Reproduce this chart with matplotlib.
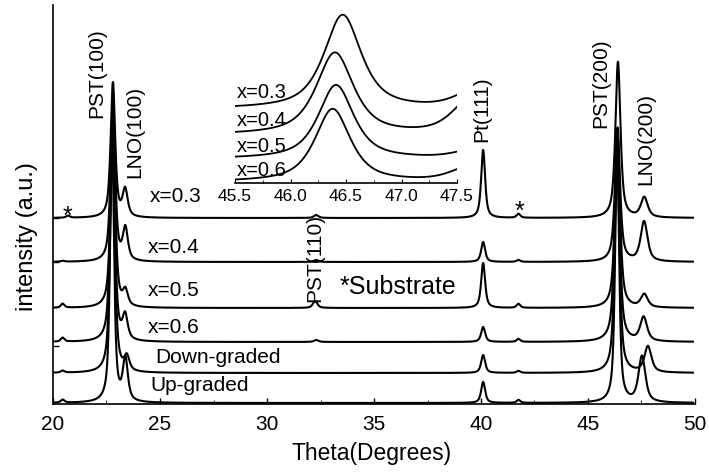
import numpy as np
import matplotlib
matplotlib.use('Agg')
from matplotlib import pyplot as plt
from matplotlib.ticker import MultipleLocator

plt.rcParams['font.family'] = ['Liberation Sans', 'DejaVu Sans']

########################################################################################################################
# Data, heights in arbitrary units above each baseline
samples = ['x=0.3', 'x=0.4', 'x=0.5', 'x=0.6', 'Down-graded', 'Up-graded']
offsets = [186, 142, 96, 62, 31, 1]

sub1_pos = [20.7, 20.45, 20.45, 20.45, 20.45, 20.45]
sub1_h = [2, 1, 4, 4, 2, 3]
pst100_pos = [22.80, 22.80, 22.80, 22.78, 22.78, 22.76]
pst100_h = [135, 162, 198, 222, 243, 263]
pst100_w = [0.25, 0.25, 0.25, 0.25, 0.25, 0.22]
lno100_pos = [23.37, 23.38, 23.38, 23.37, 23.45, 23.38]
lno100_h = [27, 32, 15, 24, 14, 42]
pst110_pos = [32.3, 32.3, 32.25, 32.3, 32.3, 32.3]
pst110_h = [3, 2, 7, 2, 0, 0]
pt111_pos = [40.1, 40.1, 40.1, 40.1, 40.1, 40.1]
pt111_h = [68, 20, 45, 15, 18, 21]
sub2_pos = [41.75, 41.75, 41.75, 41.75, 41.75, 41.75]
sub2_h = [4, 2, 4, 3, 2, 3]
pst200_pos = [46.40, 46.38, 46.38, 46.36, 46.36, 46.36]
pst200_h = [156, 134, 173, 202, 228, 253]
pst200_w = [0.28, 0.28, 0.28, 0.28, 0.26, 0.22]
lno200_pos = [47.63, 47.62, 47.63, 47.60, 47.80, 47.52]
lno200_h = [20, 40, 13, 24, 26, 46]

# inset: PST(200) region, x=0.3 ... x=0.6
inset_samples = ['x=0.3', 'x=0.4', 'x=0.5', 'x=0.6']
inset_offsets = [74, 48, 24, 1]
inset_pos = [46.47, 46.40, 46.41, 46.38]
inset_h = [94, 82, 74, 73]
inset_w = [0.40, 0.40, 0.38, 0.38]
inset_tail_h = [16, 35, 8, 14]      # LNO(200) tail on the right
inset_tail_pos = [47.63, 47.62, 47.63, 47.60]


def pico(x, pos, h, w, eta=0.7):
    g = np.exp(-4 * np.log(2) * ((x - pos) / w) ** 2)
    l = 1 / (1 + 4 * ((x - pos) / w) ** 2)
    return h * (eta * l + (1 - eta) * g)


########################################################################################################################
fig = plt.figure(figsize=(7.09, 4.73), dpi=100)
ax = fig.add_axes([53 / 709, 1 - 404 / 473, 642 / 709, 399 / 473])

theta = np.linspace(20.0, 49.9, 4000)
for i in range(len(samples)):
    y = np.full_like(theta, offsets[i], dtype=float)
    y += pico(theta, sub1_pos[i], sub1_h[i], 0.2)
    y += pico(theta, pst100_pos[i], pst100_h[i], pst100_w[i])
    y += pico(theta, lno100_pos[i], lno100_h[i], 0.28)
    y += pico(theta, pst110_pos[i], pst110_h[i], 0.25)
    y += pico(theta, pt111_pos[i], pt111_h[i], 0.22)
    y += pico(theta, sub2_pos[i], sub2_h[i], 0.2)
    y += pico(theta, pst200_pos[i], pst200_h[i], pst200_w[i])
    y += pico(theta, lno200_pos[i], lno200_h[i], 0.38)
    ax.plot(theta, y, color='black', lw=1.5)

ax.set_xlim(20, 50)
ax.set_ylim(0, 399)
ax.spines['top'].set_visible(False)
ax.spines['right'].set_visible(False)
ax.spines['left'].set_linewidth(1.2)
ax.spines['bottom'].set_linewidth(1.2)
ax.xaxis.set_major_locator(MultipleLocator(5))
ax.xaxis.set_minor_locator(MultipleLocator(2.5))
ax.set_yticks([58, 97, 142, 186])
ax.set_yticklabels([])
ax.tick_params(direction='in', length=4, labelsize=15, width=1, pad=8)
ax.tick_params(which='minor', direction='in', length=3)
fig.text(372 / 709, 1 - 453 / 473, 'Theta(Degrees)', ha='center', va='center', fontsize=16.5)
fig.text(27 / 709, 1 - 237 / 473, 'intensity (a.u.)', ha='center', va='center', rotation=90, fontsize=17)

fs = 15
ax.text(22.06, 286, 'PST(100)', rotation=90, ha='center', va='bottom', fontsize=fs)
ax.text(23.83, 226, 'LNO(100)', rotation=90, ha='center', va='bottom', fontsize=fs)
ax.text(40.05, 262, 'Pt(111)', rotation=90, ha='center', va='bottom', fontsize=fs)
ax.text(45.60, 276, 'PST(200)', rotation=90, ha='center', va='bottom', fontsize=fs)
ax.text(47.70, 219, 'LNO(200)', rotation=90, ha='center', va='bottom', fontsize=fs)
ax.text(32.24, 102, 'PST(110)', rotation=90, ha='center', va='bottom', fontsize=fs)
ax.text(20.7, 187, '*', ha='center', va='center', fontsize=18)
ax.text(41.8, 192, '*', ha='center', va='center', fontsize=18)
ax.text(33.4, 117, '*Substrate', ha='left', va='center', fontsize=18)

label_x = [24.53, 24.44, 24.44, 24.44, 24.77, 24.53]
label_y = [208, 157, 114, 77, 47, 19]
for i in range(len(samples)):
    ax.text(label_x[i], label_y[i], samples[i], ha='left', va='center', fontsize=fs)

########################################################################################################################
# Inset
axi = fig.add_axes([235 / 709, 1 - 183 / 473, 222 / 709, 175 / 473])
th_i = np.linspace(45.5, 47.5, 800)
for i in range(len(inset_samples)):
    yi = inset_offsets[i] + pico(th_i, inset_pos[i], inset_h[i], inset_w[i], eta=0.75)
    yi = yi + pico(th_i, inset_tail_pos[i], inset_tail_h[i], 0.4)
    axi.plot(th_i, yi, color='black', lw=1.3)
    axi.text(45.52, [91, 62, 37, 13][i], inset_samples[i], ha='left', va='center', fontsize=14.5)

axi.set_xlim(45.5, 47.5)
axi.set_ylim(0, 175)
axi.patch.set_alpha(0)
for s in ['top', 'right', 'left']:
    axi.spines[s].set_visible(False)
axi.spines['bottom'].set_linewidth(1.2)
axi.set_yticks([])
axi.xaxis.set_minor_locator(MultipleLocator(0.25))
axi.set_xticks([45.5, 46.0, 46.5, 47.0, 47.5])
axi.set_xticklabels(['45.5', '46.0', '46.5', '47.0', '47.5'])
axi.tick_params(direction='in', length=3, labelsize=12.5, pad=4)
axi.tick_params(which='minor', direction='in', length=2)

plt.savefig('out.png', dpi=100)
